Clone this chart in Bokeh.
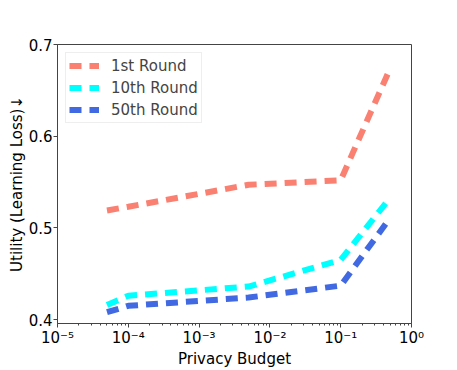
from bokeh.plotting import figure
from bokeh.models import Range1d, FixedTicker, CustomJSTickFormatter, Legend, LegendItem
from bokeh.embed import file_html
from bokeh.resources import INLINE

budgets = [5e-5, 1e-4, 5e-3, 1e-1, 0.5]
round1 = [0.519, 0.523, 0.547, 0.552, 0.674]
round10 = [0.416, 0.426, 0.436, 0.465, 0.533]
round50 = [0.408, 0.415, 0.424, 0.437, 0.511]
series_names = ["1st Round", "10th Round", "50th Round"]
colors = ["#FA8072", "#00FFFF", "#4169E1"]
x_major = [1e-5, 1e-4, 1e-3, 1e-2, 1e-1, 1.0]
y_major = [0.4, 0.5, 0.6, 0.7]

FONT = "DejaVu Sans"

p = figure(width=457, height=370, x_axis_type="log",
           x_range=Range1d(1e-5, 1.0), y_range=Range1d(0.3957, 0.7),
           output_backend="svg", toolbar_location=None,
           min_border_left=57, min_border_right=46, min_border_top=44, min_border_bottom=47)
p.xgrid.visible = False
p.ygrid.visible = False
p.outline_line_color = "#444444"
p.outline_line_width = 1
p.background_fill_color = "white"
p.border_fill_color = "white"

minor = []
for e in range(-5, 0):
    for k in range(2, 10):
        minor.append(k * 10.0 ** e)
p.xaxis.ticker = FixedTicker(ticks=x_major, minor_ticks=minor)
p.xaxis.formatter = CustomJSTickFormatter(code="""
const e = Math.round(Math.log10(tick));
const sup = {'-':'\u207b','0':'\u2070','1':'\u00b9','2':'\u00b2','3':'\u00b3','4':'\u2074','5':'\u2075','6':'\u2076','7':'\u2077','8':'\u2078','9':'\u2079'};
return '10' + String(e).split('').map(c => sup[c]).join('');
""")
p.yaxis.ticker = FixedTicker(ticks=y_major, minor_ticks=[])
p.yaxis.formatter = CustomJSTickFormatter(code="return tick.toFixed(1);")

for ax in [p.xaxis[0], p.yaxis[0]]:
    ax.axis_line_color = "#444444"
    ax.major_tick_line_color = "#444444"
    ax.minor_tick_line_color = "#444444"
    ax.major_tick_out = 4
    ax.major_tick_in = 0
    ax.minor_tick_out = 2
    ax.minor_tick_in = 0
    ax.major_label_text_font = FONT
    ax.major_label_text_font_size = "15px"
    ax.major_label_text_color = "black"
    ax.axis_label_text_font = FONT
    ax.axis_label_text_font_size = "15px"
    ax.axis_label_text_font_style = "normal"
    ax.axis_label_text_color = "black"
    ax.major_label_standoff = 1
    ax.axis_label_standoff = 0

p.xaxis.axis_label = "Privacy Budget"
p.yaxis.axis_label = "Utility (Learning Loss)\u2193"

items = []
for name, ys, c in zip(series_names, [round1, round10, round50], colors):
    r = p.line(budgets, ys, line_color=c, line_width=6, line_dash="12 8")
    items.append(LegendItem(label=name, renderers=[r]))

legend = Legend(items=items, location="top_left")
legend.margin = 8
legend.padding = 3
legend.spacing = 3
legend.label_height = 19
legend.glyph_height = 19
legend.glyph_width = 30
legend.label_standoff = 12
legend.label_text_font = FONT
legend.label_text_font_size = "15px"
legend.border_line_color = "#dddddd"
legend.border_line_width = 1
legend.background_fill_alpha = 0.8
p.add_layout(legend)

open("out.html", "w").write(file_html(p, INLINE))
